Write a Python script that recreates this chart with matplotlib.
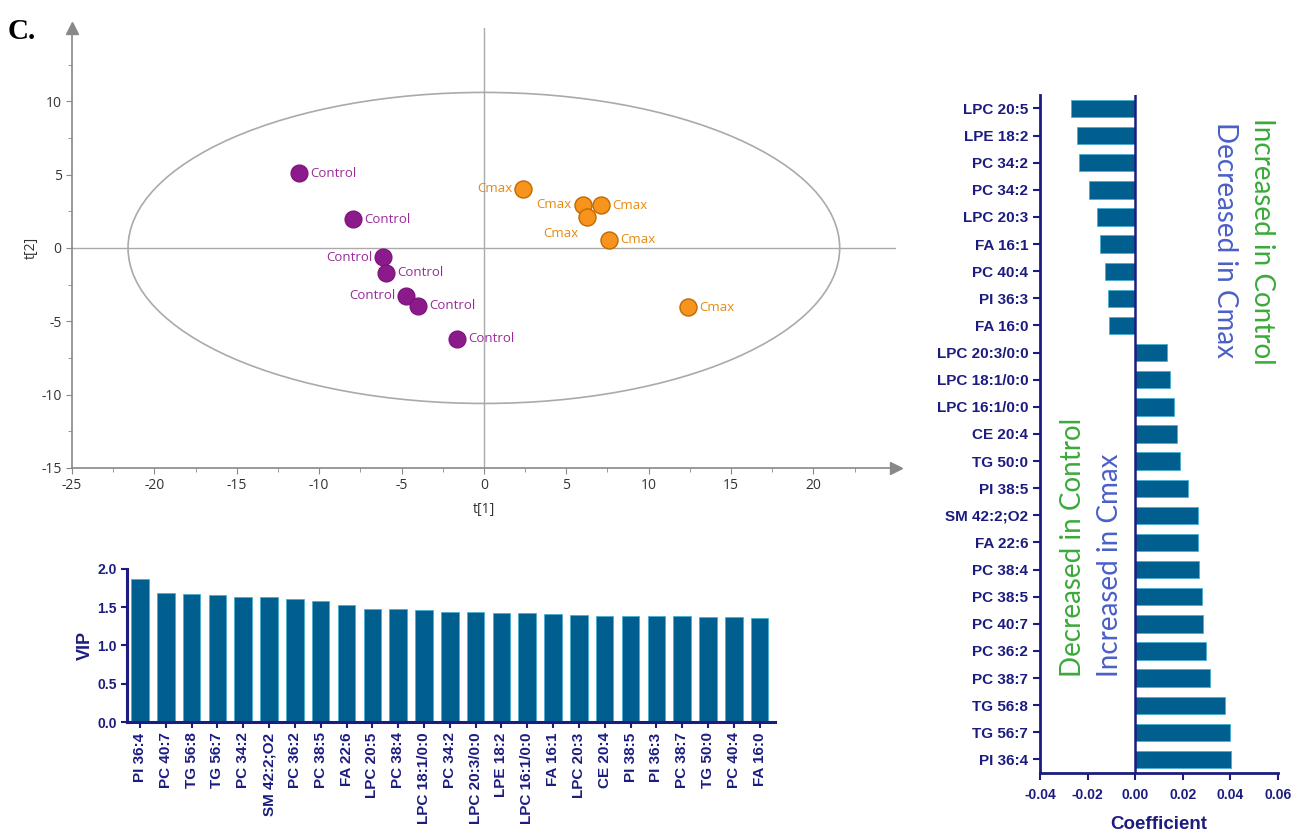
import numpy as np
import matplotlib
matplotlib.use("Agg")
import matplotlib.pyplot as plt
from matplotlib.patches import Ellipse

plt.rcParams['axes.unicode_minus'] = False

# score plot data
ctrl_x = [-11.2, -7.95, -6.1, -5.95, -4.7, -4.0, -1.65]
ctrl_y = [5.1, 1.95, -0.65, -1.7, -3.25, -3.95, -6.2]
ctrl_side = ["r", "r", "l", "r", "l", "r", "r"]
cmax_x = [2.4, 6.0, 7.1, 6.25, 7.6, 12.4]
cmax_y = [4.05, 2.95, 2.9, 2.1, 0.55, -4.05]
cmax_side = ["l", "l", "r", "bl", "r", "r"]

# VIP data
vip_names = ["PI 36:4", "PC 40:7", "TG 56:8", "TG 56:7", "PC 34:2", "SM 42:2;O2",
             "PC 36:2", "PC 38:5", "FA 22:6", "LPC 20:5", "PC 38:4", "LPC 18:1/0:0",
             "PC 34:2", "LPC 20:3/0:0", "LPE 18:2", "LPC 16:1/0:0", "FA 16:1",
             "LPC 20:3", "CE 20:4", "PI 38:5", "PI 36:3", "PC 38:7", "TG 50:0",
             "PC 40:4", "FA 16:0"]
vip_vals = [1.866, 1.684, 1.671, 1.658, 1.628, 1.628, 1.606, 1.584, 1.528, 1.47,
            1.47, 1.459, 1.437, 1.437, 1.429, 1.429, 1.416, 1.394, 1.381, 1.381,
            1.381, 1.381, 1.368, 1.368, 1.355]

# coefficient data (top to bottom)
coef_names = ["LPC 20:5", "LPE 18:2", "PC 34:2", "PC 34:2", "LPC 20:3", "FA 16:1",
              "PC 40:4", "PI 36:3", "FA 16:0", "LPC 20:3/0:0", "LPC 18:1/0:0",
              "LPC 16:1/0:0", "CE 20:4", "TG 50:0", "PI 38:5", "SM 42:2;O2",
              "FA 22:6", "PC 38:4", "PC 38:5", "PC 40:7", "PC 36:2", "PC 38:7",
              "TG 56:8", "TG 56:7", "PI 36:4"]
coef_vals = [-0.0269, -0.0245, -0.0238, -0.0196, -0.0161, -0.0150, -0.0129,
             -0.0116, -0.0111, 0.0134, 0.0144, 0.0162, 0.0174, 0.0188, 0.0220,
             0.0262, 0.0262, 0.0269, 0.0280, 0.0283, 0.0297, 0.0315, 0.0377,
             0.0398, 0.0402]

navy = "#1c1c80"
barc = "#005f8f"
barE = "#4aaed0"
purple = "#8b1a8b"
orange = "#f7941d"

fig = plt.figure(figsize=(12.91, 8.32), dpi=100)

fig.text(0.006, 0.962, "C.", fontsize=21, fontweight="bold", family="Liberation Serif",
         va="center")

# ---- score plot
ax = fig.add_axes([0.0558, 0.4375, 0.638, 0.529])
ax.set_xlim(-25, 25)
ax.set_ylim(-15, 15)
for s in ["top", "right"]:
    ax.spines[s].set_visible(False)
for s in ["left", "bottom"]:
    ax.spines[s].set_color("#888888")
    ax.spines[s].set_linewidth(1.2)
ax.plot(1, 0, ">", color="#888888", ms=9, transform=ax.transAxes, clip_on=False)
ax.plot(0, 1, "^", color="#888888", ms=9, transform=ax.transAxes, clip_on=False)
ax.set_xticks(np.arange(-25, 21, 5))
ax.set_xticks(np.arange(-22.5, 25, 5), minor=True)
ax.set_yticks(np.arange(-15, 11, 5))
ax.set_yticks(np.arange(-12.5, 15, 5), minor=True)
ax.tick_params(which="both", colors="#888888", labelcolor="#333333", labelsize=10)
ax.tick_params(which="major", length=4)
ax.tick_params(which="minor", length=3)
for t in ax.get_xticklabels() + ax.get_yticklabels():
    t.set_family("Open Sans")
ax.axhline(0, color="#aaaaaa", lw=1.0, zorder=1)
ax.axvline(0, color="#aaaaaa", lw=1.0, zorder=1)
ax.add_patch(Ellipse((0, 0), 43.2, 21.2, fill=False, ec="#aaaaaa", lw=1.2, zorder=1))
ax.set_xlabel("t[1]", fontsize=10, color="#333333", family="Open Sans", labelpad=6)
ax.set_ylabel("t[2]", fontsize=10, color="#333333", family="Open Sans", labelpad=2)

ax.scatter(ctrl_x, ctrl_y, s=150, c=purple, edgecolors="#7a107a", lw=0.8, zorder=3)
ax.scatter(cmax_x, cmax_y, s=150, c=orange, edgecolors="#c06a00", lw=1.0, zorder=3)

def lab(x, y, txt, side, col):
    if side == "r":
        ax.annotate(txt, (x, y), xytext=(8, 0), textcoords="offset points",
                    ha="left", va="center", color=col, fontsize=9.5, family="Open Sans")
    elif side == "l":
        ax.annotate(txt, (x, y), xytext=(-8, 0), textcoords="offset points",
                    ha="right", va="center", color=col, fontsize=9.5, family="Open Sans")
    else:
        ax.annotate(txt, (x, y), xytext=(-6, -12), textcoords="offset points",
                    ha="right", va="center", color=col, fontsize=9.5, family="Open Sans")

for x, y, sd in zip(ctrl_x, ctrl_y, ctrl_side):
    lab(x, y, "Control", sd, "#9a2a9a")
for x, y, sd in zip(cmax_x, cmax_y, cmax_side):
    lab(x, y, "Cmax", sd, "#e8890f")

# ---- VIP bars
ax2 = fig.add_axes([0.0984, 0.1322, 0.502, 0.184])
pos = np.arange(len(vip_names))
ax2.bar(pos, vip_vals, width=0.68, color=barc, edgecolor=barE, lw=0.6)
ax2.set_xlim(-0.5, 24.6)
ax2.set_ylim(0, 2.0)
ax2.set_yticks([0, 0.5, 1.0, 1.5, 2.0])
ax2.set_yticklabels(["0.0", "0.5", "1.0", "1.5", "2.0"])
ax2.set_xticks(pos)
ax2.set_xticklabels(vip_names, rotation=90)
for s in ["top", "right"]:
    ax2.spines[s].set_visible(False)
for s in ["left", "bottom"]:
    ax2.spines[s].set_color(navy)
    ax2.spines[s].set_linewidth(2.2)
ax2.tick_params(colors=navy, width=1.5, length=4)
ax2.tick_params(axis="x", labelsize=11)
ax2.tick_params(axis="y", labelsize=10)
for t in ax2.get_xticklabels() + ax2.get_yticklabels():
    t.set_family("Liberation Sans")
    t.set_fontweight("bold")
ax2.set_ylabel("VIP", fontsize=13, fontweight="bold", color=navy, family="Liberation Sans",
               labelpad=2)

# ---- coefficient bars
ax3 = fig.add_axes([0.8056, 0.0709, 0.1844, 0.815])
ypos = np.arange(len(coef_names))
ax3.barh(ypos, coef_vals, height=0.64, color=barc, edgecolor=barE, lw=0.6)
ax3.set_ylim(len(coef_names) - 0.5, -0.5)
ax3.set_xlim(-0.04, 0.06)
ax3.set_xticks([-0.04, -0.02, 0.0, 0.02, 0.04, 0.06])
ax3.set_xticklabels(["-0.04", "-0.02", "0.00", "0.02", "0.04", "0.06"])
ax3.set_yticks(ypos)
ax3.set_yticklabels(coef_names)
ax3.axvline(0, color=navy, lw=1.8)
for s in ["top", "right"]:
    ax3.spines[s].set_visible(False)
for s in ["left", "bottom"]:
    ax3.spines[s].set_color(navy)
    ax3.spines[s].set_linewidth(2)
ax3.tick_params(colors=navy, width=1.5, length=5)
ax3.tick_params(axis="y", labelsize=11)
ax3.tick_params(axis="x", labelsize=10, pad=6)
for t in ax3.get_xticklabels() + ax3.get_yticklabels():
    t.set_family("Liberation Sans")
    t.set_fontweight("bold")
ax3.set_xlabel("Coefficient", fontsize=13.5, fontweight="bold", color=navy,
               family="Liberation Sans", labelpad=10)

green = "#3aaa3a"
blue = "#4a5fc8"
fig.text(0.9775, 0.858, "Increased in Control", rotation=-90, ha="center", va="top",
         color=green, fontsize=20, family="Lato")
fig.text(0.949, 0.853, "Decreased in Cmax", rotation=-90, ha="center", va="top",
         color=blue, fontsize=20, family="Lato")
fig.text(0.831, 0.186, "Decreased in Control", rotation=90, ha="center", va="bottom",
         color=green, fontsize=20, family="Lato")
fig.text(0.860, 0.186, "Increased in Cmax", rotation=90, ha="center", va="bottom",
         color=blue, fontsize=20, family="Lato")

fig.savefig("out.png", dpi=100)
